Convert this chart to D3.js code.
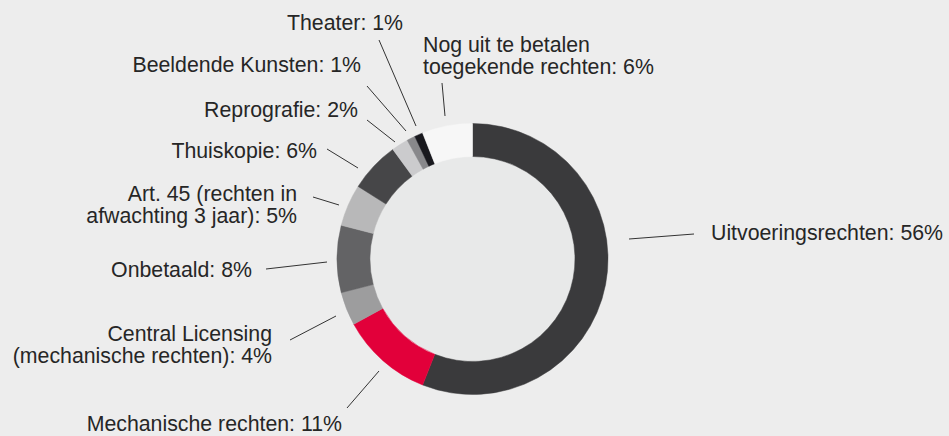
<!DOCTYPE html>
<html>
<head>
<meta charset="utf-8">
<script src="https://cdn.jsdelivr.net/npm/d3@7"></script>
<style>
  html, body { margin: 0; padding: 0; background: #ededed; }
  svg { display: block; }
  text { font-family: "Liberation Sans", Arial, Helvetica, sans-serif; font-size: 21.3px; fill: #262626; }
</style>
</head>
<body>
<svg id="chart" width="949" height="436"></svg>
<script>
// Distribution of collected rights, in percent, clockwise from the top
const categories = [
  "Uitvoeringsrechten",
  "Mechanische rechten",
  "Central Licensing (mechanische rechten)",
  "Onbetaald",
  "Art. 45 (rechten in afwachting 3 jaar)",
  "Thuiskopie",
  "Reprografie",
  "Beeldende Kunsten",
  "Theater",
  "Nog uit te betalen toegekende rechten"
];
const values = [56, 11, 4, 8, 5, 6, 2, 1, 1, 6];
const sliceColors = [
  "#3a3a3c", "#e2003a", "#9d9d9e", "#636365", "#b8b8b9",
  "#464648", "#cbcbcd", "#88888b", "#19191e", "#f7f7f7"
];
// Label text lines per category (the value is appended to the last line)
const labelLines = [
  ["Uitvoeringsrechten"],
  ["Mechanische rechten"],
  ["Central Licensing", "(mechanische rechten)"],
  ["Onbetaald"],
  ["Art. 45 (rechten in", "afwachting 3 jaar)"],
  ["Thuiskopie"],
  ["Reprografie"],
  ["Beeldende Kunsten"],
  ["Theater"],
  ["Nog uit te betalen", "toegekende rechten"]
];

// Callout layout: leader line end points and first-line baseline of the label
const callouts = [
  { line: [[629, 239], [694, 234]], text: [711, 240], anchor: "start" },
  { line: [[379, 371], [347, 408]], text: [342, 431], anchor: "end" },
  { line: [[336, 316], [290, 340]], text: [272, 341], anchor: "end" },
  { line: [[327, 262], [266, 269]], text: [252, 277], anchor: "end" },
  { line: [[339, 205], [313, 197]], text: [297, 201], anchor: "end" },
  { line: [[358, 168], [327, 149]], text: [317, 158], anchor: "end" },
  { line: [[395, 142], [367, 120]], text: [358, 117], anchor: "end" },
  { line: [[406, 131], [367, 86]], text: [361, 72], anchor: "end" },
  { line: [[416, 126], [379, 40]], text: [403, 30], anchor: "end" },
  { line: [[445, 116], [442, 83]], text: [423, 52], anchor: "start" }
];

const W = 949, H = 436;
const cx = 472.5, cy = 259;
const outerR = 135.5, innerR = 102.5;
const lineHeight = 22;

const svg = d3.select("#chart");
svg.append("rect").attr("width", W).attr("height", H).attr("fill", "#ededed");

const data = categories.map((c, i) => ({ name: c, value: values[i], color: sliceColors[i], lines: labelLines[i], callout: callouts[i] }));

const pie = d3.pie().value(d => d.value).sort(null);
const arc = d3.arc().innerRadius(innerR).outerRadius(outerR);

const g = svg.append("g").attr("transform", `translate(${cx},${cy})`);

// hole of the donut, slightly lighter than the page
g.append("circle").attr("r", innerR).attr("fill", "#e8e9e9");

g.selectAll("path.slice")
  .data(pie(data))
  .join("path")
  .attr("class", "slice")
  .attr("d", arc)
  .attr("fill", d => d.data.color)
  .attr("stroke", d => d.data.color)
  .attr("stroke-width", 0.5);

// leader lines
const lineGen = d3.line();
svg.selectAll("path.leader")
  .data(data)
  .join("path")
  .attr("class", "leader")
  .attr("d", d => lineGen(d.callout.line))
  .attr("fill", "none")
  .attr("stroke", "#333")
  .attr("stroke-width", 1);

// labels
const labels = svg.selectAll("text.label")
  .data(data)
  .join("text")
  .attr("class", "label")
  .attr("text-anchor", d => d.callout.anchor)
  .attr("x", d => d.callout.text[0])
  .attr("y", d => d.callout.text[1]);

labels.each(function (d) {
  const t = d3.select(this);
  d.lines.forEach((ln, j) => {
    const last = j === d.lines.length - 1;
    t.append("tspan")
      .attr("x", d.callout.text[0])
      .attr("dy", j === 0 ? 0 : lineHeight)
      .text(last ? `${ln}: ${d.value}%` : ln);
  });
});
</script>
</body>
</html>
